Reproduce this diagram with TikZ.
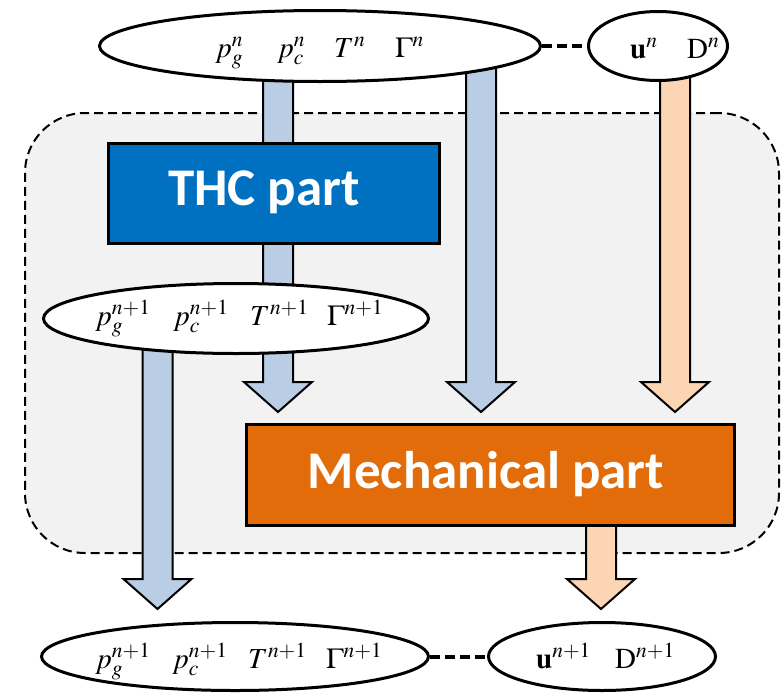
\documentclass[tikz,border=0pt]{standalone}
\usepackage{mathptmx}
\usepackage[no-math]{fontspec}
\setmainfont{Liberation Serif}
\newfontfamily\labelfont{Carlito}
\usetikzlibrary{calc,shapes.geometric}
\definecolor{thcblue}{HTML}{0070C0}
\definecolor{mechorange}{HTML}{E36C0A}
\definecolor{arrowblue}{HTML}{B9CDE5}
\definecolor{arroworange}{HTML}{FCD5B5}
\definecolor{framegray}{HTML}{F2F2F2}
\tikzset{
  varell/.style={draw=black, fill=white, line width=3pt, ellipse, inner sep=0pt},
  partbox/.style={draw=black, line width=3pt, rectangle, inner sep=0pt},
  parttext/.style={text=white, font=\labelfont\bfseries\fontsize{53}{60}\selectfont, inner sep=0pt},
  vartext/.style={anchor=base west, inner sep=0pt, font=\fontsize{29}{33}\selectfont},
  blockarrowline/.style={draw=black, line width=2pt, line join=miter},
  linkdash/.style={line width=4pt, dash pattern=on 10pt off 5pt},
}
\newcommand{\blockarrow}[3]{%
  \filldraw[blockarrowline, fill=#3]
    ($(#1)+(-15,0)$) -- ($(#2)+(-15,-30)$) -- ($(#2)+(-34,-30)$) -- (#2)
    -- ($(#2)+(34,-30)$) -- ($(#2)+(15,-30)$) -- ($(#1)+(15,0)$) -- cycle;}
\begin{document}
\begin{tikzpicture}[x=1pt, y=-1pt]
\useasboundingbox (0,0) rectangle (782,694);
% frame
\node[draw=black, fill=framegray, line width=2pt, dash pattern=on 9pt off 5pt,
      rounded corners=60pt, rectangle, minimum width=754pt, minimum height=440pt,
      inner sep=0pt] (frame) at (402,333) {};
% geometry anchors
\coordinate (topc) at (320,46);
\coordinate (toprc) at (658,46);
\coordinate (midc) at (236,318.5);
\coordinate (mechc) at (490.5,475);
% arrow tips
\coordinate (t1) at (278,412);
\coordinate (t2) at (481,412);
\coordinate (t3) at (675,412);
\coordinate (t4) at (157.5,609);
\coordinate (t5) at (601,609);
\blockarrow{t1 |- topc}{t1}{arrowblue}
\blockarrow{t2 |- topc}{t2}{arrowblue}
\blockarrow{t3 |- toprc}{t3}{arroworange}
\blockarrow{t4 |- midc}{t4}{arrowblue}
\blockarrow{t5 |- mechc}{t5}{arroworange}
% boxes
\node[partbox, fill=thcblue, minimum width=331pt, minimum height=100pt] (thc) at (274,193.5) {};
\node[parttext] (thclabel) at (264,192) {THC part};
\node[partbox, fill=mechorange, minimum width=488pt, minimum height=101pt] (mech) at (mechc) {};
\node[parttext] (mechlabel) at (486,474) {Mechanical part};
% ellipses
\node[varell, minimum width=441pt, minimum height=71pt] (top) at (topc) {};
\node[varell, minimum width=139pt, minimum height=69pt] (topr) at (toprc) {};
\node[varell, minimum width=385pt, minimum height=70pt] (mid) at (midc) {};
\node[varell, minimum width=387pt, minimum height=68pt] (botl) at (235,656.5) {};
\node[varell, minimum width=227pt, minimum height=68pt] (botr) at (602,656.5) {};
% dashed links
\draw[linkdash] (top.east) -- (topr.west);
\draw[linkdash] (botl.east) -- (botr.west);
% texts
\node[vartext] (toptext) at (215,57)
  {\makebox[62pt][l]{$p_g^n$}\makebox[57pt][l]{$p_c^n$}\makebox[61pt][l]{$T^n$}$\Gamma^n$};
\node[vartext] (toprtext) at (630,58)
  {\makebox[57pt][l]{$\mathbf{u}^n$}$\mathrm{D}^n$};
\node[vartext] (midtext) at (95,325)
  {\makebox[78pt][l]{$p_g^{n+1}$}\makebox[77pt][l]{$p_c^{n+1}$}\makebox[77pt][l]{$T^{n+1}$}$\Gamma^{n+1}$};
\node[vartext] (botltext) at (95,668)
  {\makebox[77pt][l]{$p_g^{n+1}$}\makebox[76pt][l]{$p_c^{n+1}$}\makebox[78pt][l]{$T^{n+1}$}$\Gamma^{n+1}$};
\node[vartext] (botrtext) at (536,668)
  {\makebox[79pt][l]{$\mathbf{u}^{n+1}$}$\mathrm{D}^{n+1}$};
\end{tikzpicture}
\end{document}
